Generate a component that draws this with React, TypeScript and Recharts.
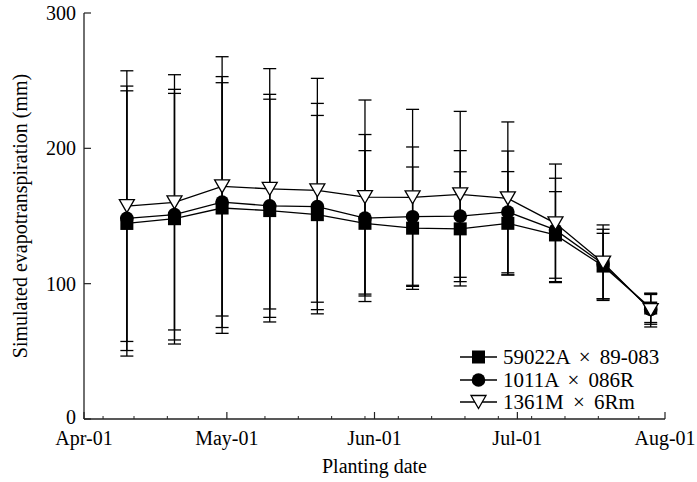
import React from 'react';
import { LineChart, Line, XAxis, YAxis, ErrorBar, Legend, Label } from 'recharts';

// planting dates as days after Apr-01 (Apr-10, Apr-20 ... Jul-29)
const plantingDays = [9, 19, 29, 39, 49, 59, 69, 79, 89, 99, 109, 119];

const hybridA = [144.5, 148, 155.9, 154, 151, 144.6, 141, 140.5, 144.6, 136, 113, 82];
const hybridAErr = [98, 92.6, 92.6, 82.3, 73.3, 53.7, 45.2, 42.2, 38.2, 32, 24.2, 10.7];
const hybridB = [148.3, 151, 160.3, 157.5, 157, 148.5, 149.5, 149.9, 153, 139.7, 114.5, 81];
const hybridBErr = [97.7, 92.6, 92.7, 82.4, 76.2, 61.7, 51.5, 48.4, 45, 38.2, 25.7, 11];
const hybridC = [157.3, 160.1, 171.9, 170.1, 169, 164, 163.8, 166, 163, 144.6, 115.5, 80.5];
const hybridCErr = [100, 94.3, 95.8, 88.8, 82.7, 71.7, 65, 61.3, 56.5, 43.8, 27.9, 12.5];

const seriesNames = ['59022A × 89-083', '1011A × 086R', '1361M × 6Rm'];

const majorDays = [0, 30, 61, 91, 122];
const majorLabels = ['Apr-01', 'May-01', 'Jun-01', 'Jul-01', 'Aug-01'];
const minorDays = [4, 10.5, 17.5, 24, 38, 45, 52, 59, 66, 73, 80, 87, 94, 101, 108, 116.5];
const yTicks = [0, 100, 200, 300];

const INK = '#000';
const AXIS = '#222';
const FONT = 'Liberation Serif, DejaVu Serif, Times New Roman, serif';

const data = plantingDays.map((day, i) => ({
  day,
  a: hybridA[i],
  aErr: hybridAErr[i],
  b: hybridB[i],
  bErr: hybridBErr[i],
  c: hybridC[i],
  cErr: hybridCErr[i],
}));

const square = (cx: number, cy: number, key?: string) => (
  <rect key={key} x={cx - 6.5} y={cy - 6.5} width={13} height={13} fill={INK} />
);
const circle = (cx: number, cy: number, key?: string) => (
  <circle key={key} cx={cx} cy={cy} r={6.8} fill={INK} />
);
const triangle = (cx: number, cy: number, key?: string) => (
  <path
    key={key}
    d={`M${cx - 7.5},${cy - 6.5} L${cx + 7.5},${cy - 6.5} L${cx},${cy + 6.5} Z`}
    fill="#fff"
    stroke={INK}
    strokeWidth={1.3}
  />
);
const markers = [square, circle, triangle];

const XTick = (props: any) => {
  const { x, y, payload } = props;
  const i = majorDays.indexOf(payload.value);
  if (i < 0) {
    return <line x1={x} x2={x} y1={y} y2={y - 3} stroke={AXIS} strokeWidth={1} />;
  }
  return (
    <g>
      <line x1={x} x2={x} y1={y} y2={y - 7} stroke={AXIS} strokeWidth={1.2} />
      <text x={x} y={y + 19} textAnchor="middle" dominantBaseline="central" fontSize={20} style={{ fontFamily: FONT }} fill={INK}>
        {majorLabels[i]}
      </text>
    </g>
  );
};

const YTick = (props: any) => {
  const { x, y, payload } = props;
  // the zero label sits a little high so it clears the first date label
  const dy = payload.value === 0 ? -2 : 0;
  return (
    <g>
      <line x1={x} x2={x + 7} y1={y} y2={y} stroke={AXIS} strokeWidth={1.2} />
      <text x={x - 8} y={y + dy} textAnchor="end" dominantBaseline="central" fontSize={20} style={{ fontFamily: FONT }} fill={INK}>
        {payload.value}
      </text>
    </g>
  );
};

const renderLegend = () => (
  <div style={{ display: 'flex', flexDirection: 'column', fontFamily: FONT }}>
    {seriesNames.map((name, i) => (
      <div key={name} style={{ display: 'flex', alignItems: 'center', height: 22.5 }}>
        <svg width={40} height={22} style={{ display: 'block' }}>
          <line x1={0} x2={37} y1={11} y2={11} stroke={INK} strokeWidth={1.3} />
          {markers[i](18.5, 11)}
        </svg>
        <span style={{ fontSize: 21, lineHeight: '22px', marginLeft: 3, color: INK, whiteSpace: 'nowrap', wordSpacing: 4, fontFamily: FONT }}>
          {name}
        </span>
      </div>
    ))}
  </div>
);

export default function App() {
  const keys = ['a', 'b', 'c'];
  const errKeys = ['aErr', 'bErr', 'cErr'];
  return (
    <div style={{ position: 'fixed', left: 0, top: 0, width: 697, height: 482, background: '#fff', fontFamily: FONT }}>
      <LineChart width={697} height={482} data={data} margin={{ top: 13, right: 32, bottom: 0, left: 0 }} style={{ fontFamily: FONT }}>
        <XAxis
          dataKey="day"
          type="number"
          domain={[0, 122]}
          ticks={[...majorDays, ...minorDays]}
          interval={0}
          height={63}
          tick={<XTick />}
          tickLine={false}
          tickSize={0}
          tickMargin={0}
          axisLine={{ stroke: AXIS, strokeWidth: 1.3 }}
          allowDataOverflow
        >
          <Label
            content={(p: any) => {
              const vb = p.viewBox;
              return (
                <text x={vb.x + vb.width / 2} y={vb.y + 47} textAnchor="middle" dominantBaseline="central" fontSize={20} style={{ fontFamily: FONT }} fill={INK}>
                  Planting date
                </text>
              );
            }}
          />
        </XAxis>
        <XAxis
          xAxisId="top"
          orientation="top"
          type="number"
          domain={[0, 122]}
          height={0}
          tick={false}
          tickLine={false}
          axisLine={{ stroke: AXIS, strokeWidth: 1.3 }}
        />
        <YAxis
          type="number"
          domain={[0, 300]}
          ticks={yTicks}
          interval={0}
          width={84}
          tick={<YTick />}
          tickLine={false}
          tickSize={0}
          tickMargin={0}
          axisLine={{ stroke: AXIS, strokeWidth: 1.3 }}
          allowDataOverflow
        >
          <Label
            content={(p: any) => {
              const vb = p.viewBox;
              const cx = vb.x + 20;
              const cy = vb.y + vb.height / 2;
              return (
                <text x={cx} y={cy} transform={`rotate(-90 ${cx} ${cy})`} textAnchor="middle" dominantBaseline="central" fontSize={20} style={{ fontFamily: FONT }} fill={INK}>
                  Simulated evapotranspiration (mm)
                </text>
              );
            }}
          />
        </YAxis>
        <YAxis
          yAxisId="right"
          orientation="right"
          type="number"
          domain={[0, 300]}
          width={0}
          tick={false}
          tickLine={false}
          axisLine={{ stroke: AXIS, strokeWidth: 1.3 }}
        />
        {keys.map((k, i) => (
          <Line
            key={k}
            dataKey={k}
            name={seriesNames[i]}
            stroke={INK}
            strokeWidth={1.3}
            isAnimationActive={false}
            activeDot={false}
            dot={(p: any) => markers[i](p.cx, p.cy, `${k}-${p.index}`)}
          >
            <ErrorBar dataKey={errKeys[i]} width={6.5} stroke={INK} strokeWidth={1.3} direction="y" isAnimationActive={false} />
          </Line>
        ))}
        <Legend
          layout="vertical"
          align="center"
          verticalAlign="middle"
          content={renderLegend}
          wrapperStyle={{ left: 460, top: 346, width: 'auto' }}
        />
      </LineChart>
    </div>
  );
}
